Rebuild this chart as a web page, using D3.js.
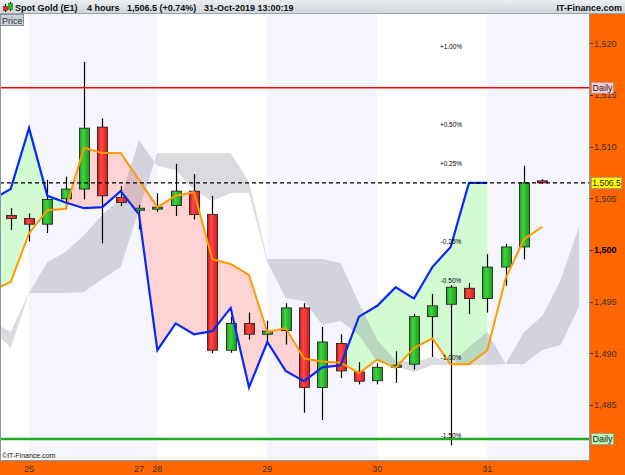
<!DOCTYPE html>
<html><head><meta charset="utf-8">
<script src="https://cdn.jsdelivr.net/npm/d3@7"></script>
<style>
html,body{margin:0;padding:0;background:#fff;}
svg{display:block;font-family:"Liberation Sans",Arial,sans-serif;}
</style></head><body>
<svg id="chart" width="625" height="475"></svg>
<script>
// ---- data (4-hour candles, index 0 = last candle of 24-Oct) ----
const candleOpen  = [1503.35,1503.05,1502.5,1504.95,1505.9,1511.9,1505.1,1503.9,1504.05,1504.3,1505.7,1503.45,1490.3,1492.9,1491.85,1492.2,1494.4,1486.7,1490.95,1488.2,1487.35,1488.65,1488.95,1493.55,1494.75,1496.3,1495.3,1498.35,1500.3,1506.7];
const candleHigh  = [1504.05,1503.55,1506.8,1507.1,1518.2,1512.75,1506.2,1504.35,1505.5,1508.35,1507.35,1505.25,1493.55,1493.95,1493.15,1494.85,1494.85,1492.55,1491.85,1489.15,1489.05,1490.2,1493.8,1495.75,1496.6,1496.8,1499.6,1500.6,1508.15,1506.85];
const candleLow   = [1501.95,1500.85,1501.65,1503.95,1504.9,1500.65,1504.25,1502.0,1503.7,1503.3,1502.95,1490.0,1490.05,1491.35,1491.05,1490.85,1484.25,1483.55,1487.6,1487.0,1487.0,1487.15,1488.45,1489.65,1481.1,1493.8,1493.95,1496.55,1499.1,1506.45];
const candleClose = [1503.05,1502.5,1504.9,1505.9,1511.8,1505.25,1504.6,1504.05,1504.15,1505.7,1503.45,1490.3,1492.9,1491.85,1492.15,1494.4,1486.7,1491.1,1488.3,1487.3,1488.65,1488.85,1493.55,1494.6,1496.4,1495.3,1498.35,1500.3,1506.5,1506.5];

// lagging span (blue), starts at candle index -1
const laggingStart = -1;
const laggingSpan = [1504.9,1505.9,1511.8,1505.25,1504.6,1504.05,1504.15,1505.7,1503.45,1490.3,1492.9,1491.85,1492.15,1494.4,1486.7,1491.1,1488.3,1487.3,1488.65,1488.85,1493.55,1494.6,1496.4,1495.3,1498.35,1500.3,1506.5,1506.5];

// base line (orange), starts at candle index -1
const baseStart = -1;
const baseLine = [1496.1,1496.9,1501.6,1503.85,1504.0,1509.9,1509.4,1509.4,1506.8,1504.15,1505.25,1505.6,1499.1,1498.65,1497.6,1492.05,1492.45,1489.5,1489.2,1489.1,1488.1,1489.4,1488.6,1490.5,1491.45,1488.95,1488.95,1490.3,1497.25,1501.05,1502.25];

// cloud spans (grey), start at candle index -1
const cloudStart = -1;
const spanA = [1492.35,1490.51,1495.84,1498.84,1499.81,1501.45,1503.39,1505.03,1510.65,1508.13,1507.74,1505.81,1504.74,1505.52,1505.52,1498.84,1495.35,1495.06,1492.74,1493.13,1491.77,1489.16,1488.77,1488.19,1488.87,1488.87,1490.61,1492.06,1488.96,1492.06,1493.61,1497.10,1502.23];
const spanB = [1493.03,1492.06,1495.84,1495.84,1495.84,1495.93,1497.19,1498.35,1503.87,1509.39,1509.39,1509.39,1509.39,1509.39,1506.58,1499.13,1499.13,1499.13,1499.13,1498.74,1494.87,1491.29,1489.25,1489.16,1489.64,1489.16,1488.87,1488.87,1488.96,1488.96,1490.32,1490.80,1494.48];

const dayLabels = ["25","27","28","29","30","31"];
const dayStartIndex = [1,7,8,14,20,26];
const shadedDays = [[1,8],[14,20],[26,33]];

const priceTicks = [1485,1490,1495,1500,1505,1510,1515,1520];
const lastPrice = 1506.5;
const dailyHigh = 1515.7;
const dailyLow = 1481.7;
const pctBase = 1504.6;
const pctLevels = [1.0,0.5,0.25,-0.25,-0.5,-1.0,-1.5];

// ---- layout ----
const W = 625, H = 475;
const P = {left:0, right:589, top:14, bottom:460};
const svg = d3.select("#chart");
const x = d3.scaleLinear().domain([0,29]).range([10.7,542.3]);
const y = d3.scaleLinear().domain([1485,1520]).range([405,43.4]);

const defs = svg.append("defs");
defs.append("clipPath").attr("id","plotClip").append("rect")
  .attr("x",P.left+1).attr("y",P.top).attr("width",P.right-P.left-1).attr("height",P.bottom-P.top);

const tg = defs.append("linearGradient").attr("id","titleGrad").attr("x1",0).attr("x2",0).attr("y1",0).attr("y2",1);
tg.append("stop").attr("offset","0%").attr("stop-color","#eceef0");
tg.append("stop").attr("offset","100%").attr("stop-color","#cfd4d9");
function bodyGrad(id,c0,c1,c2){
  const g = defs.append("linearGradient").attr("id",id).attr("x1",0).attr("x2",1).attr("y1",0).attr("y2",0);
  g.append("stop").attr("offset","0%").attr("stop-color",c0);
  g.append("stop").attr("offset","35%").attr("stop-color",c1);
  g.append("stop").attr("offset","100%").attr("stop-color",c2);
}
bodyGrad("gUp","#1e9a1e","#3fd43f","#1a9a1a");
bodyGrad("gDn","#c81414","#ff4a4a","#d81a1a");

// backgrounds
svg.append("rect").attr("x",0).attr("y",0).attr("width",W).attr("height",H).attr("fill","#fff");
const plotG = svg.append("g").attr("clip-path","url(#plotClip)");
plotG.selectAll("rect.band").data(shadedDays).join("rect").attr("class","band")
  .attr("x",d=>x(d[0])).attr("y",P.top)
  .attr("width",d=>Math.min(x(d[1]),P.right)-x(d[0])).attr("height",P.bottom-P.top)
  .attr("fill","#f5f6fd");

// orange lines clip regions for difference fill
const baseIdx = baseLine.map((v,i)=>({i:i+baseStart,v}));
const lagIdx = laggingSpan.map((v,i)=>({i:i+laggingStart,v}));
const orangeAt = i => baseLine[i-baseStart];
defs.append("clipPath").attr("id","aboveBase").append("path")
  .attr("d", d3.area().x(d=>x(d.i)).y0(0).y1(d=>y(d.v))(baseIdx));
defs.append("clipPath").attr("id","belowBase").append("path")
  .attr("d", d3.area().x(d=>x(d.i)).y0(H).y1(d=>y(d.v))(baseIdx));
const diffArea = d3.area().x(d=>x(d.i)).y0(d=>y(orangeAt(d.i))).y1(d=>y(d.v));
plotG.append("g").attr("clip-path","url(#aboveBase)").append("path")
  .attr("d",diffArea(lagIdx)).attr("fill","#d2fbd2");
plotG.append("g").attr("clip-path","url(#belowBase)").append("path")
  .attr("d",diffArea(lagIdx)).attr("fill","#fdd3d3");

// cloud
const cloudIdx = spanA.map((a,i)=>({i:i+cloudStart,a,b:spanB[i]}));
plotG.append("path")
  .attr("d", d3.area().x(d=>x(d.i)).y0(d=>y(d.a)).y1(d=>y(d.b))(cloudIdx))
  .attr("fill","rgb(120,120,135)").attr("fill-opacity",0.27);

// candles
const candles = candleOpen.map((o,i)=>({i,o,h:candleHigh[i],l:candleLow[i],c:candleClose[i]}));
const cg = plotG.append("g");
cg.selectAll("line.wick").data(candles).join("line").attr("class","wick")
  .attr("x1",d=>Math.round(x(d.i))+0.5).attr("x2",d=>Math.round(x(d.i))+0.5)
  .attr("y1",d=>y(d.h)).attr("y2",d=>y(d.l)).attr("stroke","#000").attr("stroke-width",1.2);
const bw = 10;
cg.selectAll("rect.body").data(candles).join("rect").attr("class","body")
  .attr("x",d=>Math.round(x(d.i))+0.5-bw/2)
  .attr("y",d=>y(Math.max(d.o,d.c)))
  .attr("width",bw)
  .attr("height",d=>Math.max(2,Math.abs(y(d.o)-y(d.c))))
  .attr("fill",d=>d.c>=d.o?"url(#gUp)":"url(#gDn)")
  .attr("stroke","#1a1a1a").attr("stroke-width",0.8);

// lines
plotG.append("path").attr("d",d3.line().x(d=>x(d.i)).y(d=>y(d.v))(baseIdx))
  .attr("fill","none").attr("stroke","#ff9a00").attr("stroke-width",2);
plotG.append("path").attr("d",d3.line().x(d=>x(d.i)).y(d=>y(d.v))(lagIdx))
  .attr("fill","none").attr("stroke","#0a28f5").attr("stroke-width",2.2);

// horizontal levels
plotG.append("line").attr("x1",P.left).attr("x2",P.right).attr("y1",y(lastPrice)).attr("y2",y(lastPrice))
  .attr("stroke","#000").attr("stroke-width",1.3).attr("stroke-dasharray","4,3");
plotG.append("line").attr("x1",P.left).attr("x2",P.right).attr("y1",y(dailyHigh)).attr("y2",y(dailyHigh))
  .attr("stroke","#f00").attr("stroke-width",1.5);
plotG.append("line").attr("x1",P.left).attr("x2",P.right).attr("y1",y(dailyLow)).attr("y2",y(dailyLow))
  .attr("stroke","#22aa22").attr("stroke-width",2.5);

// percentage labels
const pctFmt = v => (v>0?"+":"") + v.toFixed(2) + "%";
plotG.selectAll("text.pct").data(pctLevels).join("text").attr("class","pct")
  .attr("x",451).attr("y",d=>y(pctBase*(1+d/100))+2.3)
  .attr("text-anchor","middle").attr("font-size","6.5px").attr("fill","#000")
  .text(pctFmt);

// copyright
svg.append("text").attr("x",2).attr("y",458).attr("font-size","7px").attr("fill","#111").text("©IT-Finance.com");

// frame
svg.append("line").attr("x1",0.5).attr("x2",0.5).attr("y1",P.top).attr("y2",P.bottom).attr("stroke","#8a98a6");

// orange axis areas
svg.append("rect").attr("x",P.right).attr("y",P.top).attr("width",W-P.right).attr("height",H-P.top).attr("fill","#ff6600");
svg.append("rect").attr("x",0).attr("y",P.bottom).attr("width",W).attr("height",H-P.bottom).attr("fill","#ff6600");
svg.append("line").attr("x1",P.right+0.5).attr("x2",P.right+0.5).attr("y1",P.top).attr("y2",P.bottom+1).attr("stroke","#8a98a6");
svg.append("line").attr("x1",0).attr("x2",P.right+1).attr("y1",P.bottom+0.5).attr("y2",P.bottom+0.5).attr("stroke","#8a98a6");

// right axis
const fmt = d3.format(",");
const ax = svg.append("g");
ax.selectAll("line").data(priceTicks).join("line")
  .attr("x1",P.right+1).attr("x2",P.right+4).attr("y1",d=>Math.round(y(d))+0.5).attr("y2",d=>Math.round(y(d))+0.5)
  .attr("stroke","#333");
ax.selectAll("text").data(priceTicks).join("text")
  .attr("x",P.right+5).attr("y",d=>y(d)+3.2)
  .attr("font-size","9px").attr("fill",d=>d===1500?"#000":"#333")
  .attr("font-weight",d=>d===1500?"bold":"normal")
  .text(d=>fmt(d));

// bottom axis
svg.selectAll("text.day").data(dayLabels).join("text").attr("class","day")
  .attr("x",(d,i)=>x(dayStartIndex[i])).attr("y",472)
  .attr("text-anchor","middle").attr("font-size","9px").attr("fill","#333").text(d=>d);

// side labels
function tag(yv,label,fill,w,fs){
  const g = svg.append("g");
  g.append("rect").attr("x",P.right+2.5).attr("y",y(yv)-5.5).attr("width",w).attr("height",11)
    .attr("fill",fill).attr("stroke","#999").attr("stroke-width",0.8);
  g.append("text").attr("x",P.right+2.5+w/2).attr("y",y(yv)+3.2).attr("text-anchor","middle")
    .attr("font-size",fs).attr("fill","#222").text(label);
}
tag(dailyHigh,"Daily","#ffc8d0",22,"9px");
tag(dailyLow,"Daily","#b8f5b8",22,"9px");
tag(lastPrice,d3.format(",.1f")(lastPrice),"#ffff00",30,"8.5px");

// title bar
svg.append("rect").attr("x",0).attr("y",0).attr("width",W).attr("height",14).attr("fill","url(#titleGrad)");
svg.append("line").attr("x1",0).attr("x2",W).attr("y1",13.5).attr("y2",13.5).attr("stroke","#9aa4ae");
// icon
svg.append("line").attr("x1",5.5).attr("x2",5.5).attr("y1",4).attr("y2",12).attr("stroke","#000");
svg.append("rect").attr("x",3.5).attr("y",6.5).attr("width",4).attr("height",4).attr("fill","#e22").attr("stroke","#600").attr("stroke-width",0.5);
svg.append("line").attr("x1",10.5).attr("x2",10.5).attr("y1",2).attr("y2",11).attr("stroke","#000");
svg.append("rect").attr("x",8.5).attr("y",3.5).attr("width",4).attr("height",6).attr("fill","#2b2").attr("stroke","#060").attr("stroke-width",0.5);
const titleParts = [["Spot Gold (E1)",15],["4 hours",87],["1,506.5 (+0.74%)",127],["31-Oct-2019 13:00:19",204]];
svg.selectAll("text.title").data(titleParts).join("text").attr("class","title")
  .attr("x",d=>d[1]).attr("y",10.5).attr("font-size","9px").attr("font-weight","bold").attr("fill","#111").text(d=>d[0]);
svg.append("text").attr("x",622).attr("y",10.5).attr("text-anchor","end").attr("font-size","9px")
  .attr("font-weight","bold").attr("fill","#111").text("IT-Finance.com");

// price panel label
svg.append("rect").attr("x",0.5).attr("y",14.5).attr("width",23).attr("height",11).attr("fill","#c9d0d8").attr("stroke","#8a98a6");
svg.append("text").attr("x",2).attr("y",23.5).attr("font-size","9px").attr("fill","#333").text("Price");
</script>
</body></html>
